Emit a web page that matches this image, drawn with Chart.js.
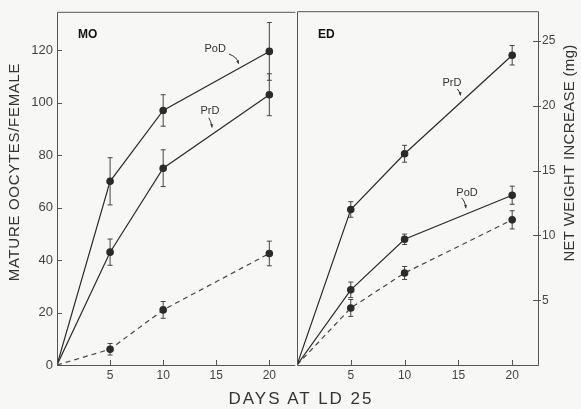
<!DOCTYPE html>
<html>
<head>
<meta charset="utf-8">
<script src="https://cdn.jsdelivr.net/npm/chart.js@4.4.1/dist/chart.umd.min.js"></script>
<style>
  body { margin: 0; background: #f7f7f5; }
  #wrap { position: relative; width: 581px; height: 409px; overflow: hidden; }
  #left { position: absolute; left: 0; top: 0; }
  #right { position: absolute; left: 290px; top: 0; }
  #xtitle { position: absolute; left: 200px; width: 202px; top: 389px; text-align: center;
    font: 17px "Liberation Sans", Arial, sans-serif; letter-spacing: 2px; color: #333; }
</style>
</head>
<body>
<div id="wrap">
  <canvas id="left" width="300" height="409"></canvas>
  <canvas id="right" width="291" height="409"></canvas>
  <div id="xtitle">DAYS AT LD 25</div>
</div>
<script>
const days = [0, 5, 10, 20];
const xTicks = [5, 10, 15, 20];

// MO panel - mature oocytes per female
const moPoD = [0, 70, 97, 119.5];
const moPoDErr = [0, 9, 6, 11];
const moPrD = [0, 43, 75, 103];
const moPrDErr = [0, 5, 7, 8];
const moCtrl = [0, 6, 21, 42.5];
const moCtrlErr = [0, 2.2, 3.2, 4.7];
const moTicks = [0, 20, 40, 60, 80, 100, 120];

// ED panel - net weight increase (mg)
const edPrD = [0, 12, 16.3, 23.9];
const edPrDErr = [0, 0.6, 0.65, 0.75];
const edPoD = [0, 5.8, 9.7, 13.1];
const edPoDErr = [0, 0.6, 0.4, 0.7];
const edCtrl = [0, 4.4, 7.1, 11.2];
const edCtrlErr = [0, 0.65, 0.5, 0.7];
const edTicks = [5, 10, 15, 20, 25];

// curve labels (data units): text centre, arrow start, arrow end
const moNotes = [
  {text: 'PoD', x: 14.9, y: 120.4, from: [16.2, 118.5], to: [17.1, 114.8]},
  {text: 'PrD', x: 14.4, y: 96.8, from: [14.3, 94.2], to: [14.6, 90.5]}
];
const edNotes = [
  {text: 'PrD', x: 14.4, y: 21.8, from: [14.9, 21.3], to: [15.2, 20.8]},
  {text: 'PoD', x: 15.8, y: 13.3, from: [15.3, 12.9], to: [15.7, 12.1]}
];

const ink = '#2b2b2b';
const fontFam = '"Liberation Sans", Arial, sans-serif';

function series(vals, errs, dashed) {
  return {
    data: days.map((d, i) => ({x: d, y: vals[i]})),
    errors: errs,
    borderColor: dashed ? '#444' : ink,
    borderWidth: 1.2,
    borderDash: dashed ? [5, 4] : [],
    pointRadius: days.map(d => d === 0 ? 0 : 3.2),
    pointBackgroundColor: ink,
    pointBorderColor: ink,
    tension: 0
  };
}

const panelPlugin = {
  id: 'panel',
  beforeDatasetsDraw(chart) {
    // error bars
    const {ctx, scales} = chart;
    ctx.save();
    ctx.strokeStyle = '#444';
    ctx.lineWidth = 1;
    chart.data.datasets.forEach((ds, di) => {
      const meta = chart.getDatasetMeta(di);
      ds.data.forEach((p, i) => {
        const e = ds.errors[i];
        if (!e) return;
        const px = meta.data[i].x;
        const y1 = scales.y.getPixelForValue(p.y + e);
        const y2 = scales.y.getPixelForValue(p.y - e);
        ctx.beginPath();
        ctx.moveTo(px, y1); ctx.lineTo(px, y2);
        ctx.moveTo(px - 2.5, y1); ctx.lineTo(px + 2.5, y1);
        ctx.moveTo(px - 2.5, y2); ctx.lineTo(px + 2.5, y2);
        ctx.stroke();
      });
    });
    ctx.restore();
  },
  afterDraw(chart, args, opts) {
    const {ctx, chartArea: a, scales} = chart;
    ctx.save();
    ctx.strokeStyle = '#555';
    ctx.lineWidth = 1;
    const L = a.left + 0.5, R = a.right + 0.5, T = a.top + 0.5, B = a.bottom + 0.5;
    ctx.beginPath();
    if (opts.side === 'left') {
      // the shared middle edge is drawn by the right panel
      ctx.moveTo(R, T); ctx.lineTo(L, T); ctx.lineTo(L, B); ctx.lineTo(R, B);
    } else {
      ctx.moveTo(L, T); ctx.lineTo(R, T); ctx.lineTo(R, B); ctx.lineTo(L, B); ctx.closePath();
    }
    ctx.stroke();

    // inward tick marks
    ctx.beginPath();
    scales.x.ticks.forEach(t => {
      const px = Math.round(scales.x.getPixelForValue(t.value)) + 0.5;
      ctx.moveTo(px, a.bottom); ctx.lineTo(px, a.bottom - 5);
    });
    scales.y.ticks.forEach(t => {
      const py = Math.round(scales.y.getPixelForValue(t.value)) + 0.5;
      if (opts.side === 'left') {
        ctx.moveTo(a.left, py); ctx.lineTo(a.left + 5, py);
      } else {
        ctx.moveTo(a.right - 5, py); ctx.lineTo(a.right + 3, py);
      }
    });
    ctx.stroke();

    // panel label
    ctx.fillStyle = '#111';
    ctx.font = 'bold 12px ' + fontFam;
    ctx.textAlign = 'left';
    ctx.textBaseline = 'middle';
    ctx.fillText(opts.label, a.left + 21, a.top + 23);

    // curve labels with small arrows
    ctx.font = '11px ' + fontFam;
    ctx.textAlign = 'center';
    ctx.fillStyle = '#333';
    ctx.strokeStyle = '#333';
    opts.notes.forEach(n => {
      ctx.fillText(n.text, scales.x.getPixelForValue(n.x), scales.y.getPixelForValue(n.y));
      const x1 = scales.x.getPixelForValue(n.from[0]), y1 = scales.y.getPixelForValue(n.from[1]);
      const x2 = scales.x.getPixelForValue(n.to[0]), y2 = scales.y.getPixelForValue(n.to[1]);
      ctx.beginPath();
      ctx.moveTo(x1, y1);
      ctx.quadraticCurveTo(x2 - 1, y1 + (y2 - y1) * 0.3, x2, y2);
      ctx.stroke();
      const ang = Math.atan2(y2 - y1, (x2 - x1) * 0.3);
      ctx.beginPath();
      ctx.moveTo(x2, y2);
      ctx.lineTo(x2 - 3.5 * Math.cos(ang - 0.45), y2 - 3.5 * Math.sin(ang - 0.45));
      ctx.lineTo(x2 - 3.5 * Math.cos(ang + 0.45), y2 - 3.5 * Math.sin(ang + 0.45));
      ctx.closePath();
      ctx.fill();
    });

    // rotated axis title
    ctx.translate(opts.titleX, opts.titleY);
    ctx.rotate(-Math.PI / 2);
    ctx.font = '15px ' + fontFam;
    ctx.letterSpacing = opts.titleSpacing;
    ctx.fillStyle = '#333';
    ctx.textBaseline = 'middle';
    ctx.fillText(opts.title, 0, 0);
    ctx.restore();
  }
};

function xScale() {
  return {
    type: 'linear', min: 0, max: 22.4,
    grid: {display: false, drawTicks: false},
    border: {display: false},
    afterBuildTicks: s => { s.ticks = xTicks.map(v => ({value: v})); },
    afterFit: s => { s.height = 44; },
    ticks: {padding: 3, color: '#444', maxRotation: 0, font: {family: fontFam, size: 12}}
  };
}

new Chart(document.getElementById('left'), {
  type: 'line',
  data: {
    datasets: [
      series(moPoD, moPoDErr, false),
      series(moPrD, moPrDErr, false),
      series(moCtrl, moCtrlErr, true)
    ]
  },
  options: {
    responsive: false,
    animation: false,
    layout: {padding: {top: 5, right: 3, left: 0, bottom: 0}},
    scales: {
      x: xScale(),
      y: {
        type: 'linear', position: 'left', min: 0, max: 134.6,
        grid: {display: false, drawTicks: false},
        border: {display: false},
        afterBuildTicks: s => { s.ticks = moTicks.map(v => ({value: v})); },
        afterFit: s => { s.width = 57; },
        ticks: {padding: 4, color: '#444', font: {family: fontFam, size: 13}}
      }
    },
    plugins: {
      legend: {display: false},
      tooltip: {enabled: false},
      panel: {side: 'left', label: 'MO', notes: moNotes,
              title: 'MATURE OOCYTES/FEMALE', titleX: 15, titleY: 172, titleSpacing: '0.7px'}
    }
  },
  plugins: [panelPlugin]
});

new Chart(document.getElementById('right'), {
  type: 'line',
  data: {
    datasets: [
      series(edPrD, edPrDErr, false),
      series(edPoD, edPoDErr, false),
      series(edCtrl, edCtrlErr, true)
    ]
  },
  options: {
    responsive: false,
    animation: false,
    layout: {padding: {top: 5, right: 0, left: 7, bottom: 0}},
    scales: {
      x: xScale(),
      y: {
        type: 'linear', position: 'right', min: 0, max: 27.3,
        grid: {display: false, drawTicks: false},
        border: {display: false},
        afterBuildTicks: s => { s.ticks = edTicks.map(v => ({value: v})); },
        afterFit: s => { s.width = 43; },
        ticks: {padding: 4, color: '#444', font: {family: fontFam, size: 12}}
      }
    },
    plugins: {
      legend: {display: false},
      tooltip: {enabled: false},
      panel: {side: 'right', label: 'ED', notes: edNotes,
              title: 'NET WEIGHT INCREASE (mg)', titleX: 280, titleY: 153, titleSpacing: '0.3px'}
    }
  },
  plugins: [panelPlugin]
});
</script>
</body>
</html>
